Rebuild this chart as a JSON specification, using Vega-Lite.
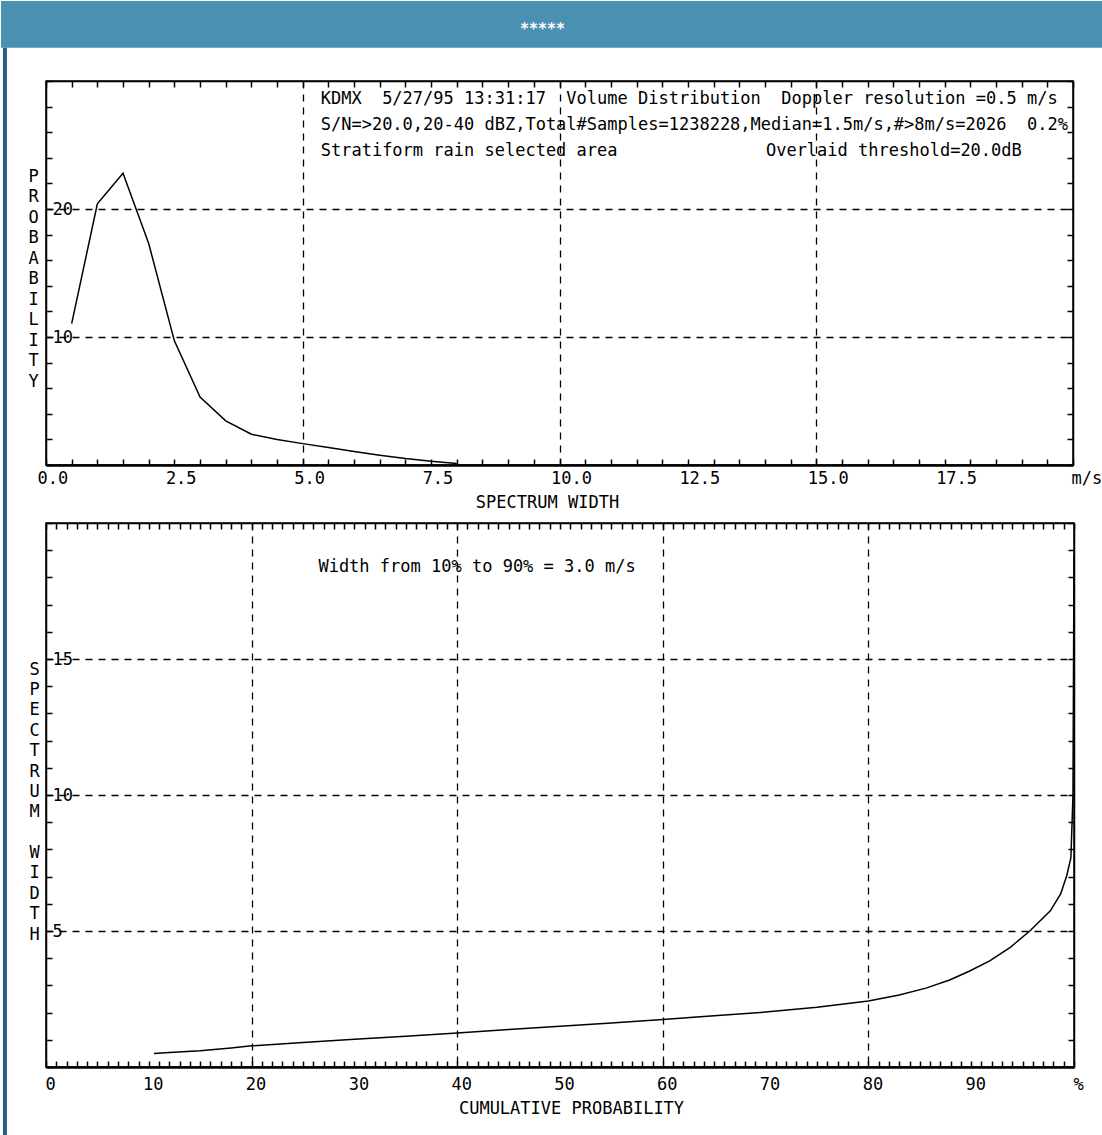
{
  "$schema": "https://vega.github.io/schema/vega-lite/v6.json",
  "padding": 0,
  "autosize": {"type": "pad"},
  "background": "white",
  "bounds": "flush",
  "spacing": 58,
  "datasets": {
    "dist": [
      {"w": 0.5, "p": 11.05}, {"w": 1.0, "p": 20.4}, {"w": 1.5, "p": 22.8}, {"w": 2.0, "p": 17.3},
      {"w": 2.5, "p": 9.7}, {"w": 3.0, "p": 5.3}, {"w": 3.5, "p": 3.45}, {"w": 4.0, "p": 2.4},
      {"w": 4.5, "p": 2.0}, {"w": 5.0, "p": 1.67}, {"w": 5.5, "p": 1.36}, {"w": 6.0, "p": 1.05},
      {"w": 6.5, "p": 0.76}, {"w": 7.0, "p": 0.5}, {"w": 7.5, "p": 0.3}, {"w": 8.0, "p": 0.12}
    ],
    "cum": [
      {"c": 10.5, "w": 0.5}, {"c": 12, "w": 0.53}, {"c": 15, "w": 0.6}, {"c": 18, "w": 0.7},
      {"c": 20, "w": 0.78}, {"c": 25, "w": 0.9}, {"c": 30, "w": 1.02}, {"c": 35, "w": 1.13},
      {"c": 40, "w": 1.25}, {"c": 45, "w": 1.38}, {"c": 50, "w": 1.5}, {"c": 55, "w": 1.62},
      {"c": 60, "w": 1.75}, {"c": 65, "w": 1.88}, {"c": 70, "w": 2.02}, {"c": 75, "w": 2.2},
      {"c": 80, "w": 2.43}, {"c": 83, "w": 2.65}, {"c": 85.6, "w": 2.9}, {"c": 87.9, "w": 3.2},
      {"c": 89.8, "w": 3.52}, {"c": 91.8, "w": 3.9}, {"c": 93.8, "w": 4.4}, {"c": 95.7, "w": 5.0},
      {"c": 97.7, "w": 5.74}, {"c": 98.7, "w": 6.36}, {"c": 99.3, "w": 7.04}, {"c": 99.7, "w": 7.7},
      {"c": 99.9, "w": 10.0}, {"c": 100, "w": 18.8}
    ],
    "toptext": [
      {"x": 5.35, "y": 28.6, "t": "KDMX\u00a0\u00a05/27/95 13:31:17\u00a0\u00a0Volume Distribution\u00a0\u00a0Doppler resolution =0.5 m/s"},
      {"x": 5.35, "y": 26.56, "t": "S/N=>20.0,20-40 dBZ,Total#Samples=1238228,Median=1.5m/s,#>8m/s=2026\u00a0\u00a00.2%"},
      {"x": 5.35, "y": 24.53, "t": "Stratiform rain selected area"},
      {"x": 14.02, "y": 24.53, "t": "Overlaid threshold=20.0dB"}
    ],
    "bottext": [
      {"x": 26.5, "y": 18.4, "t": "Width from 10% to 90% = 3.0 m/s"}
    ]
  },
  "config": {
    "font": "DejaVu Sans Mono",
    "view": {"stroke": "black", "strokeWidth": 1.5},
    "axis": {
      "labelFont": "DejaVu Sans Mono", "labelFontSize": 17, "labelColor": "black",
      "titleFont": "DejaVu Sans Mono", "titleFontSize": 17, "titleFontWeight": "normal", "titleColor": "black",
      "tickColor": "black", "tickWidth": 1.5, "tickSize": -6,
      "domainColor": "black", "domainWidth": 1.5,
      "gridColor": "black", "gridWidth": 1.3, "gridDash": [7, 6],
      "labelOverlap": false, "labelFlush": false, "labelBound": false
    }
  },
  "vconcat": [
    {
      "width": 1027,
      "height": 384,
      "resolve": {"axis": {"x": "independent", "y": "independent"}},
      "layer": [
        {
          "data": {"name": "dist"},
          "mark": {"type": "line", "color": "black", "strokeWidth": 1.5},
          "encoding": {
            "x": {"field": "w", "type": "quantitative", "scale": {"domain": [0, 20], "nice": false, "zero": false},
              "axis": {
                "orient": "bottom",
                "values": [0,0.5,1,1.5,2,2.5,3,3.5,4,4.5,5,5.5,6,6.5,7,7.5,8,8.5,9,9.5,10,10.5,11,11.5,12,12.5,13,13.5,14,14.5,15,15.5,16,16.5,17,17.5,18,18.5,19,19.5,20],
                "labelExpr": "datum.value % 2.5 === 0 ? (datum.value === 20 ? 'm/s' : format(datum.value, '.1f')) : ''",
                "labelAlign": "left",
                "labelOffset": {"condition": {"test": "datum.value === 20", "value": -2}, "value": -9},
                "labelPadding": 11,
                "domainWidth": 2.5,
                "grid": true,
                "gridOpacity": {"condition": {"test": "datum.value === 5 || datum.value === 10 || datum.value === 15", "value": 1}, "value": 0},
                "title": "SPECTRUM WIDTH",
                "titleX": 501,
                "titlePadding": 8
              }},
            "y": {"field": "p", "type": "quantitative", "scale": {"domain": [0, 30], "nice": false, "zero": false},
              "axis": {
                "orient": "left",
                "values": [0,2,4,6,8,10,12,14,16,18,20,22,24,26,28,30],
                "labelExpr": "datum.value === 10 || datum.value === 20 ? format(datum.value, 'd') : ''",
                "labelAlign": "left",
                "labelBaseline": "middle",
                "labelPadding": 0,
                "grid": true,
                "gridOpacity": {"condition": {"test": "datum.value === 10 || datum.value === 20", "value": 1}, "value": 0},
                "title": ["P","R","O","B","A","B","I","L","I","T","Y"],
                "titleAngle": 0,
                "titleAlign": "center",
                "titleBaseline": "middle",
                "titleLineHeight": 20.5,
                "titleX": -13,
                "titleY": 95
              }}
          }
        },
        {
          "data": {"name": "dist"},
          "mark": {"type": "line", "strokeOpacity": 0},
          "encoding": {
            "x": {"field": "w", "type": "quantitative", "scale": {"domain": [0, 20], "nice": false, "zero": false},
              "axis": {"orient": "top", "values": [0,0.5,1,1.5,2,2.5,3,3.5,4,4.5,5,5.5,6,6.5,7,7.5,8,8.5,9,9.5,10,10.5,11,11.5,12,12.5,13,13.5,14,14.5,15,15.5,16,16.5,17,17.5,18,18.5,19,19.5,20], "labels": false, "grid": false, "title": null}},
            "y": {"field": "p", "type": "quantitative", "scale": {"domain": [0, 30], "nice": false, "zero": false},
              "axis": {"orient": "right", "values": [0,2,4,6,8,10,12,14,16,18,20,22,24,26,28,30], "labels": false, "grid": false, "title": null}}
          }
        },
        {
          "data": {"name": "toptext"},
          "mark": {"type": "text", "align": "left", "baseline": "middle", "font": "DejaVu Sans Mono", "fontSize": 17, "color": "black"},
          "encoding": {
            "x": {"field": "x", "type": "quantitative", "scale": {"domain": [0, 20], "nice": false, "zero": false}, "axis": null},
            "y": {"field": "y", "type": "quantitative", "scale": {"domain": [0, 30], "nice": false, "zero": false}, "axis": null},
            "text": {"field": "t", "type": "nominal"}
          }
        },
        {
          "data": {"values": [{}]},
          "mark": {"type": "rect", "color": "#4a91b1"},
          "encoding": {
            "x": {"datum": -0.876, "type": "quantitative", "axis": null},
            "x2": {"datum": 20.62},
            "y": {"datum": 36.25, "type": "quantitative", "axis": null},
            "y2": {"datum": 32.6}
          }
        },
        {
          "data": {"values": [{}]},
          "mark": {"type": "rule", "color": "#24607f", "strokeWidth": 4},
          "encoding": {
            "x": {"datum": -0.8, "type": "quantitative", "axis": null},
            "y": {"datum": 32.6, "type": "quantitative", "axis": null},
            "y2": {"datum": -52.4}
          }
        },
        {
          "data": {"values": [{}]},
          "mark": {"type": "text", "text": "*****", "color": "white", "fontWeight": "bold", "fontSize": 15, "align": "center", "baseline": "middle"},
          "encoding": {
            "x": {"datum": 9.67, "type": "quantitative", "axis": null},
            "y": {"datum": 34.1, "type": "quantitative", "axis": null}
          }
        }
      ]
    },
    {
      "width": 1028,
      "height": 544,
      "resolve": {"axis": {"x": "independent", "y": "independent"}},
      "layer": [
        {
          "data": {"name": "cum"},
          "mark": {"type": "line", "color": "black", "strokeWidth": 1.5},
          "encoding": {
            "x": {"field": "c", "type": "quantitative", "scale": {"domain": [0, 100], "nice": false, "zero": false},
              "axis": {
                "orient": "bottom",
                "values": [0,1,2,3,4,5,6,7,8,9,10,11,12,13,14,15,16,17,18,19,20,21,22,23,24,25,26,27,28,29,30,31,32,33,34,35,36,37,38,39,40,41,42,43,44,45,46,47,48,49,50,51,52,53,54,55,56,57,58,59,60,61,62,63,64,65,66,67,68,69,70,71,72,73,74,75,76,77,78,79,80,81,82,83,84,85,86,87,88,89,90,91,92,93,94,95,96,97,98,99,100],
                "labelExpr": "datum.value % 10 === 0 ? (datum.value === 100 ? '%' : format(datum.value, 'd')) : ''",
                "labelAlign": "center",
                "labelOffset": 4,
                "labelPadding": 15,
                "domainWidth": 2.5,
                "grid": true,
                "gridOpacity": {"condition": {"test": "datum.value === 20 || datum.value === 40 || datum.value === 60 || datum.value === 80", "value": 1}, "value": 0},
                "title": "CUMULATIVE PROBABILITY",
                "titleX": 525,
                "titlePadding": 8
              }},
            "y": {"field": "w", "type": "quantitative", "scale": {"domain": [0, 20], "nice": false, "zero": false},
              "axis": {
                "orient": "left",
                "values": [0,1,2,3,4,5,6,7,8,9,10,11,12,13,14,15,16,17,18,19,20],
                "labelExpr": "datum.value === 5 || datum.value === 10 || datum.value === 15 ? format(datum.value, 'd') : ''",
                "labelAlign": "left",
                "labelBaseline": "middle",
                "labelPadding": 0,
                "grid": true,
                "gridOpacity": {"condition": {"test": "datum.value === 5 || datum.value === 10 || datum.value === 15", "value": 1}, "value": 0},
                "title": ["S","P","E","C","T","R","U","M","\u200b","W","I","D","T","H"],
                "titleAngle": 0,
                "titleAlign": "center",
                "titleBaseline": "middle",
                "titleLineHeight": 20.4,
                "titleX": -12,
                "titleY": 146
              }}
          }
        },
        {
          "data": {"name": "cum"},
          "mark": {"type": "line", "strokeOpacity": 0},
          "encoding": {
            "x": {"field": "c", "type": "quantitative", "scale": {"domain": [0, 100], "nice": false, "zero": false},
              "axis": {"orient": "top", "values": [0,1,2,3,4,5,6,7,8,9,10,11,12,13,14,15,16,17,18,19,20,21,22,23,24,25,26,27,28,29,30,31,32,33,34,35,36,37,38,39,40,41,42,43,44,45,46,47,48,49,50,51,52,53,54,55,56,57,58,59,60,61,62,63,64,65,66,67,68,69,70,71,72,73,74,75,76,77,78,79,80,81,82,83,84,85,86,87,88,89,90,91,92,93,94,95,96,97,98,99,100], "labels": false, "grid": false, "title": null}},
            "y": {"field": "w", "type": "quantitative", "scale": {"domain": [0, 20], "nice": false, "zero": false},
              "axis": {"orient": "right", "values": [0,1,2,3,4,5,6,7,8,9,10,11,12,13,14,15,16,17,18,19,20], "labels": false, "grid": false, "title": null}}
          }
        },
        {
          "data": {"name": "bottext"},
          "mark": {"type": "text", "align": "left", "baseline": "middle", "font": "DejaVu Sans Mono", "fontSize": 17, "color": "black"},
          "encoding": {
            "x": {"field": "x", "type": "quantitative", "scale": {"domain": [0, 100], "nice": false, "zero": false}, "axis": null},
            "y": {"field": "y", "type": "quantitative", "scale": {"domain": [0, 20], "nice": false, "zero": false}, "axis": null},
            "text": {"field": "t", "type": "nominal"}
          }
        }
      ]
    }
  ]
}
